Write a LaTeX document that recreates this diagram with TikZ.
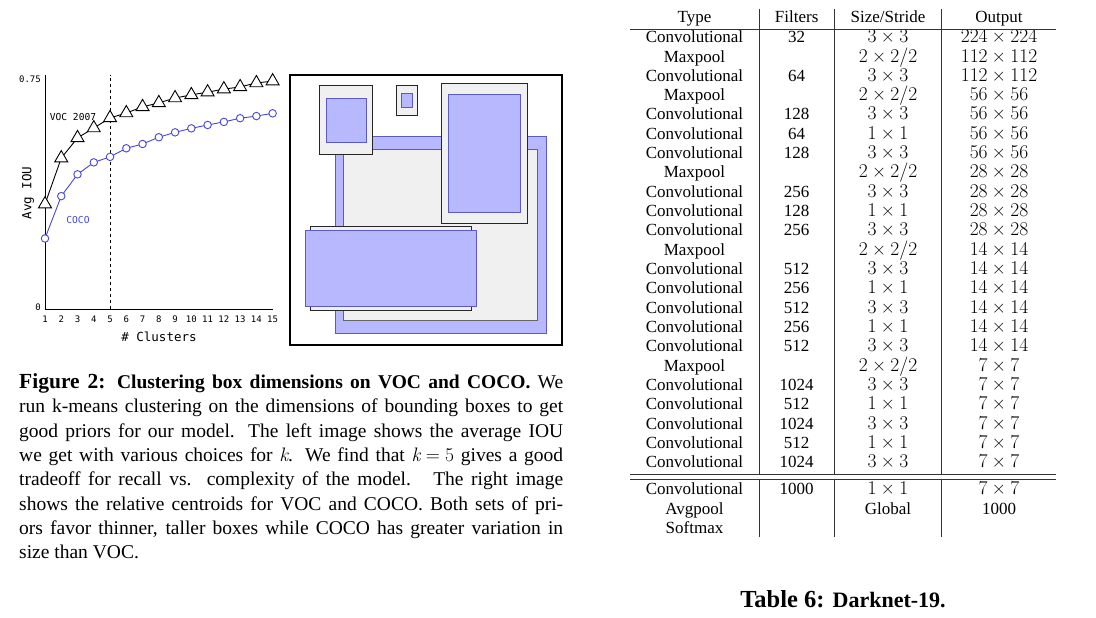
\documentclass[tikz,border=0pt]{standalone}
\usepackage{fontspec}
\setmainfont{Liberation Serif}
\newfontfamily\plotfont{DejaVu Sans Mono}
\usetikzlibrary{shapes.geometric}
\definecolor{cocoblue}{RGB}{70,70,220}
\definecolor{boxblue}{RGB}{184,184,255}
\definecolor{boxedge}{RGB}{90,90,205}
\definecolor{boxgray}{RGB}{240,240,240}
% Latin Modern for the math-like cells
\newcommand{\lmfont}{\fontfamily{lmr}\selectfont}
\newcommand{\dims}[2]{{\lmfont\fontsize{19.5}{20}\selectfont #1\hspace{0.222em}×\hspace{0.222em}#2}}
\newcommand{\kvar}{{\lmfont\itshape k}}

\begin{document}
\begin{tikzpicture}[
    x=1pt, y=-1pt,
    cell/.style={anchor=base, inner sep=0pt, font=\fontsize{17}{19}\selectfont},
    vocmark/.style={regular polygon, regular polygon sides=3, draw=black, fill=white, line width=0.9pt, inner sep=0pt, minimum size=15pt},
    cocomark/.style={circle, draw=cocoblue, fill=white, line width=0.9pt, inner sep=0pt, minimum size=7.5pt},
    ticklab/.style={inner sep=0pt, font=\plotfont\fontsize{9}{10}\selectfont},
    axlab/.style={inner sep=0pt, font=\plotfont\fontsize{12.5}{14}\selectfont},
    priorvoc/.style={draw=black!85, fill=boxgray, line width=1pt},
    priorcoco/.style={draw=boxedge, fill=boxblue, line width=1pt},
    rule/.style={line width=0.8pt, black!80}
]
    \useasboundingbox (0,0) rectangle (1096,618);

    % IOU plot
    \begin{scope}[shift={(28.74,309.3)}, x=16.26pt, y=306.7pt]
        \coordinate (orig) at (1,0);
        \coordinate (ytop) at (1,0.765);
        \coordinate (xend) at (15,0);
        \coordinate (kfive) at (5,0);
        \coordinate (kfivetop) at (5,0.765);
        \draw[dashed, line width=0.7pt] (kfive) -- (kfivetop);
        \draw[line width=0.8pt] (ytop) -- (orig) -- (xend);
        \foreach \v [count=\k] in {0.343,0.493,0.559,0.591,0.624,0.640,0.660,0.673,0.689,0.699,0.708,0.718,0.725,0.738,0.744}
            \coordinate (v\k) at (\k,\v);
        \foreach \v [count=\k] in {0.231,0.369,0.440,0.479,0.497,0.525,0.539,0.561,0.577,0.590,0.601,0.611,0.623,0.630,0.639}
            \coordinate (c\k) at (\k,\v);
        \foreach \k [evaluate=\k as \n using int(\k+1)] in {1,...,14} {
            \draw[line width=0.9pt] (v\k) -- (v\n);
            \draw[cocoblue, line width=0.9pt] (c\k) -- (c\n);
        }
        \foreach \k in {1,...,15} {
            \node[vocmark] (vm\k) at (v\k) {};
            \node[cocomark] (cm\k) at (c\k) {};
            \node[ticklab, yshift=-10pt] (xt\k) at (\k,0) {\k};
        }
    \end{scope}
    \node[ticklab, anchor=east] (ymax) at (41,79) {0.75};
    \node[ticklab, anchor=east] (ymin) at (41,307) {0};
    \node[axlab, rotate=90] (ylab) at (28,193) {Avg IOU};
    \node[axlab] (xlab) at (159,337) {\# Clusters};
    \node[ticklab, font=\plotfont\fontsize{9.6}{10}\selectfont] (voclab) at (73,117) {VOC 2007};
    \node[ticklab, font=\plotfont\fontsize{9.6}{10}\selectfont, text=cocoblue] (cocolab) at (78,220) {COCO};

    % Prior boxes
    \draw[priorcoco] (335,136) rectangle (546,333.3);
    \draw[priorvoc, draw=black!60] (343.3,149) rectangle (537.7,320);
    \draw[priorvoc] (441.3,84) rectangle (527,223.3);
    \draw[priorcoco] (448,95) rectangle (520,212.7);
    \draw[priorvoc] (310,226.7) rectangle (471.7,310);
    \draw[priorcoco] (305,230.7) rectangle (476.3,306.7);
    \draw[priorvoc] (319,86) rectangle (372.7,154.3);
    \draw[priorcoco] (326.3,98.3) rectangle (366.3,142);
    \draw[priorvoc] (396.3,86) rectangle (417.7,115.3);
    \draw[priorcoco] (401.3,94) rectangle (412.7,107.7);
    \draw[line width=2pt] (290,75) rectangle (561.7,345);

    % Figure caption
    \node[anchor=north west, text width=544pt, align=justify, inner sep=0pt, font=\fontsize{19.5}{24.3}\selectfont] (figcap) at (19,373.5)
        {\hyphenpenalty=10000\textbf{{\fontsize{21.5}{24.3}\selectfont Figure 2:} Clustering box dimensions on VOC and COCO.} We\linebreak
        run k-means clustering on the dimensions of bounding boxes to get\linebreak
        good priors for our model. The left image shows the average IOU\linebreak
        we get with various choices for \kvar. We find that {\lmfont\itshape k\hspace{0.278em}\upshape=\hspace{0.278em}5} gives a good\linebreak
        tradeoff for recall vs.\ \ complexity of the model. \ The right image\linebreak
        shows the relative centroids for VOC and COCO. Both sets of pri-\linebreak
        ors favor thinner, taller boxes while COCO has greater variation in\linebreak
        size than VOC.};

    % Darknet-19 table
    \node[cell] (htype) at (694.5,22.7) {Type};
    \node[cell] (hfilt) at (796.7,22.7) {Filters};
    \node[cell] (hsize) at (888,22.7) {Size/Stride};
    \node[cell] (hout) at (999,22.7) {Output};
    \foreach \t/\f/\s/\o [count=\i] in {
        Convolutional/32/{\dims{3}{3}}/{\dims{224}{224}},
        Maxpool/{}/{\dims{2}{2/2}}/{\dims{112}{112}},
        Convolutional/64/{\dims{3}{3}}/{\dims{112}{112}},
        Maxpool/{}/{\dims{2}{2/2}}/{\dims{56}{56}},
        Convolutional/128/{\dims{3}{3}}/{\dims{56}{56}},
        Convolutional/64/{\dims{1}{1}}/{\dims{56}{56}},
        Convolutional/128/{\dims{3}{3}}/{\dims{56}{56}},
        Maxpool/{}/{\dims{2}{2/2}}/{\dims{28}{28}},
        Convolutional/256/{\dims{3}{3}}/{\dims{28}{28}},
        Convolutional/128/{\dims{1}{1}}/{\dims{28}{28}},
        Convolutional/256/{\dims{3}{3}}/{\dims{28}{28}},
        Maxpool/{}/{\dims{2}{2/2}}/{\dims{14}{14}},
        Convolutional/512/{\dims{3}{3}}/{\dims{14}{14}},
        Convolutional/256/{\dims{1}{1}}/{\dims{14}{14}},
        Convolutional/512/{\dims{3}{3}}/{\dims{14}{14}},
        Convolutional/256/{\dims{1}{1}}/{\dims{14}{14}},
        Convolutional/512/{\dims{3}{3}}/{\dims{14}{14}},
        Maxpool/{}/{\dims{2}{2/2}}/{\dims{7}{7}},
        Convolutional/1024/{\dims{3}{3}}/{\dims{7}{7}},
        Convolutional/512/{\dims{1}{1}}/{\dims{7}{7}},
        Convolutional/1024/{\dims{3}{3}}/{\dims{7}{7}},
        Convolutional/512/{\dims{1}{1}}/{\dims{7}{7}},
        Convolutional/1024/{\dims{3}{3}}/{\dims{7}{7}}} {
        \pgfmathsetmacro\yy{42.7+(\i-1)*19.32}
        \node[cell] (type\i) at (694.5,\yy) {\t};
        \node[cell] (filt\i) at (796.7,\yy) {\f};
        \node[cell] (size\i) at (888,\yy) {\s};
        \node[cell] (out\i) at (999,\yy) {\o};
    }
    \node[cell] (type24) at (694.5,494.7) {Convolutional};
    \node[cell] (filt24) at (796.7,494.7) {1000};
    \node[cell] (size24) at (888,494.7) {\dims{1}{1}};
    \node[cell] (out24) at (999,494.7) {\dims{7}{7}};
    \node[cell] (type25) at (694.5,514) {Avgpool};
    \node[cell] (size25) at (888,514) {Global};
    \node[cell] (out25) at (999,514) {1000};
    \node[cell] (type26) at (694.5,533.3) {Softmax};

    % Table rules
    \draw[rule] (630,29.3) -- (1056,29.3);
    \draw[rule] (630,474) -- (1056,474);
    \draw[rule] (630,479) -- (1056,479);
    \foreach \xx in {759,834.3,941.7} {
        \draw[rule] (\xx,9) -- (\xx,474);
        \draw[rule] (\xx,479) -- (\xx,537);
    }

    % Table caption
    \node[anchor=base, inner sep=0pt] (tabcap) at (843,607)
        {\bfseries{\fontsize{24.5}{26}\selectfont Table 6: }{\fontsize{22}{24}\selectfont Darknet-19.}};
\end{tikzpicture}
\end{document}
